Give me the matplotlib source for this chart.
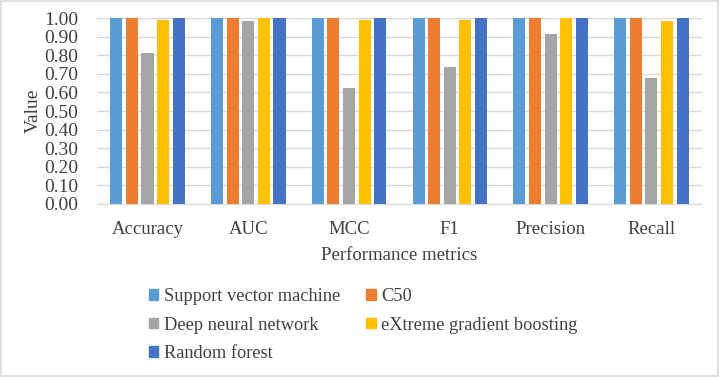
import numpy as np
import matplotlib.pyplot as plt
from matplotlib.patches import Patch, Rectangle

plt.rcParams['font.family'] = ['Liberation Serif', 'DejaVu Serif']

metrics = ['Accuracy', 'AUC', 'MCC', 'F1', 'Precision', 'Recall']
models = ['Support vector machine', 'C50', 'Deep neural network',
          'eXtreme gradient boosting', 'Random forest']

svm = [1.00, 1.00, 1.00, 1.00, 1.00, 1.00]
c50 = [1.00, 1.00, 1.00, 1.00, 1.00, 1.00]
dnn = [0.813, 0.985, 0.623, 0.739, 0.914, 0.680]
xgb = [0.990, 1.00, 0.990, 0.990, 1.00, 0.986]
rf = [1.00, 1.00, 1.00, 1.00, 1.00, 1.00]

colors = ['#5B9BD5', '#ED7D31', '#A5A5A5', '#FFC000', '#4472C4']
series = [svm, c50, dnn, xgb, rf]

fig = plt.figure(figsize=(7.19, 3.77), dpi=100)
ax = fig.add_axes([0.135, 0.459, 0.841, 0.493])

x = np.arange(len(metrics))
pitch = 0.155
width = 0.12
for i, (vals, c) in enumerate(zip(series, colors)):
    ax.bar(x + (i - 2) * pitch, vals, width, color=c, zorder=3)

ax.set_xlim(-0.5, len(metrics) - 0.5)
ax.set_ylim(0, 1.0)
yt = np.arange(0, 1.01, 0.1)
ax.set_yticks(yt)
ax.set_yticklabels([f'{v:.2f}' for v in yt], fontsize=14, color='#404040')
ax.set_xticks(x)
ax.set_xticklabels(metrics, fontsize=13.5, color='#404040')
ax.tick_params(axis='y', length=0, pad=13.5)
ax.tick_params(axis='x', length=0, pad=12)
ax.grid(axis='y', color='#D9D9D9', linewidth=1, zorder=0)
for s in ['top', 'right', 'left']:
    ax.spines[s].set_visible(False)
ax.spines['bottom'].set_color('#D9D9D9')
ax.set_ylabel('Value', fontsize=14, color='#404040', labelpad=2)
ax.set_xlabel('Performance metrics', fontsize=13.5, color='#404040', labelpad=7)

order = [0, 2, 4, 1, 3]
handles = [Patch(color=colors[k]) for k in order]
labels = [models[k] for k in order]
fig.legend(handles, labels, ncol=2, loc='upper left', bbox_to_anchor=(0.197, 0.255),
           frameon=False, fontsize=13.2, handlelength=0.5, handleheight=0.5,
           handletextpad=0.3, columnspacing=1.45, labelspacing=0.62,
           labelcolor='#404040', borderaxespad=0)

fig.patches.append(Rectangle((0.002, 0.003), 0.996, 0.994, transform=fig.transFigure,
                             fill=False, edgecolor='#D9D9D9', linewidth=1.2))

fig.savefig('out.png', dpi=100)
